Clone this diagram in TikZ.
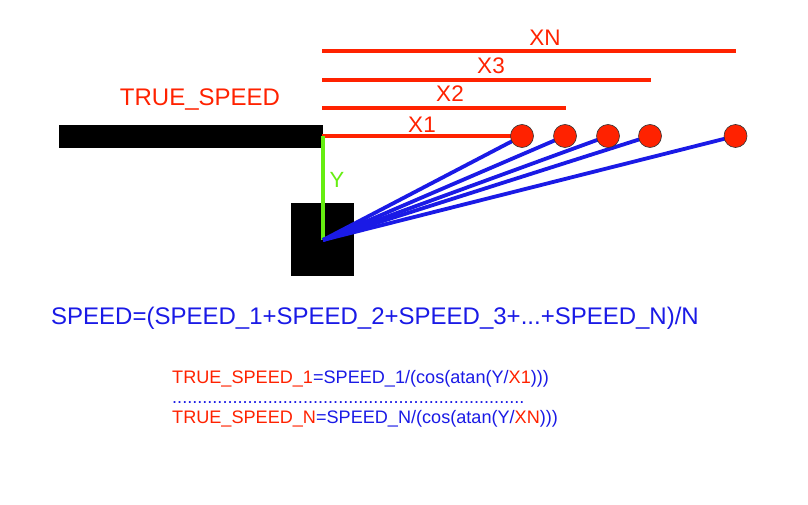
\documentclass[tikz,border=0pt]{standalone}
\usepackage{fontspec}
\setmainfont{Liberation Sans}
\definecolor{rd}{HTML}{FF2200}
\definecolor{bl}{HTML}{1A1AE6}
\definecolor{gr}{HTML}{66EE11}
\newcommand{\rt}[1]{\textcolor{rd}{#1}}
\newcommand{\bt}[1]{\textcolor{bl}{#1}}
\tikzset{
 redline/.style={draw=rd,line width=3.8pt},
 blueline/.style={draw=bl,line width=3.8pt},
 greenline/.style={draw=gr,line width=3.8pt},
 ball/.style={circle,draw=black!80,line width=0.6pt,fill=rd,minimum size=23pt,inner sep=0pt},
 blk/.style={fill=black,draw=none,inner sep=0pt},
 shortred/.style={text=rd,font=\fontsize{22.5}{24}\selectfont,inner sep=0pt},
 bigred/.style={text=rd,font=\fontsize{24}{24}\selectfont,inner sep=0pt},
 lab/.style={anchor=west,inner sep=0pt}
}
\begin{document}
\begin{tikzpicture}[x=1pt,y=-1pt]
\useasboundingbox[fill=white] (0,0) rectangle (808,505);
% black shapes
\node[blk,minimum width=264pt,minimum height=23pt] (bar) at (191,136.5) {};
\node[blk,minimum width=63pt,minimum height=73pt] (box) at (322.5,239.5) {};
% anchor points
\coordinate (o) at (323,240);
\coordinate (t) at (323,136);
\coordinate (s0) at (322,136);
\coordinate (s2) at (322,107.7);
\coordinate (e2) at (566,107.7);
\coordinate (s3) at (322,79.8);
\coordinate (e3) at (651,79.8);
\coordinate (sn) at (322,50.7);
\coordinate (en) at (736,50.7);
% balls positions
\coordinate (c1) at (522,136);
\coordinate (c2) at (565,136);
\coordinate (c3) at (608,136);
\coordinate (c4) at (650,136);
\coordinate (c5) at (735.5,136);
% lines
\draw[redline] (sn) -- (en);
\draw[redline] (s3) -- (e3);
\draw[redline] (s2) -- (e2);
\draw[redline] (s0) -- (c1);
\draw[greenline] (t) -- (o);
\foreach \c in {c1,c2,c3,c4,c5} \draw[blueline] (o) -- (\c);
% balls
\node[ball] (b1) at (c1) {};
\node[ball] (b2) at (c2) {};
\node[ball] (b3) at (c3) {};
\node[ball] (b4) at (c4) {};
\node[ball] (b5) at (c5) {};
% labels
\node[shortred] (xn) at (545,38) {XN};
\node[shortred] (x3) at (491,66) {X3};
\node[shortred] (x2) at (450,94) {X2};
\node[shortred] (x1) at (422,125) {X1};
\node[bigred] (ts) at (200,100) {TRUE\_SPEED};
\node[text=gr,font=\fontsize{22}{24}\selectfont,inner sep=0pt] (y) at (337,179.5) {Y};
\node[lab,text=bl,font=\fontsize{24}{24}\selectfont] (sp) at (51,318) {SPEED=(SPEED\_1+SPEED\_2+SPEED\_3+...+SPEED\_N)/N};
\node[lab,font=\fontsize{18.1}{20}\selectfont] (f1) at (172,379) {\rt{TRUE\_SPEED\_1}\bt{=SPEED\_1/(cos(atan(Y/}\rt{X1}\bt{)))}};
\node[lab,text=bl,font=\fontsize{18.1}{20}\selectfont] (dots) at (172,403) {......................................................................};
\node[lab,font=\fontsize{18.1}{20}\selectfont] (fn) at (172,419) {\rt{TRUE\_SPEED\_N}\bt{=SPEED\_N/(cos(atan(Y/}\rt{XN}\bt{)))}};
\end{tikzpicture}
\end{document}
